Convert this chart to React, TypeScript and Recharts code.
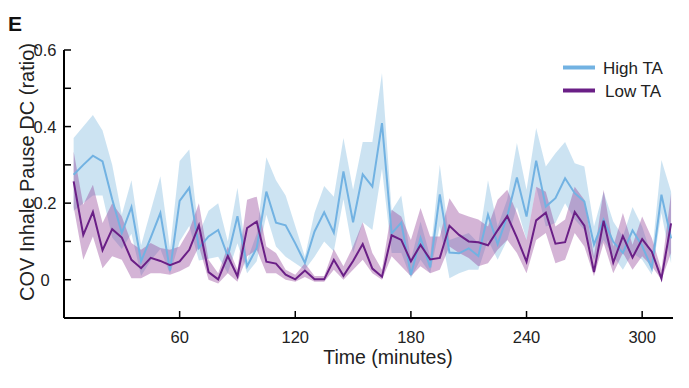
import React from 'react';
import { ComposedChart, Area, Line, XAxis, YAxis, Legend } from 'recharts';

// time points (minutes)
const times = [
  5, 10, 15, 20, 25, 30, 35, 40, 45, 50, 55, 60, 65, 70, 75, 80, 85, 90, 95, 100,
  105, 110, 115, 120, 125, 130, 135, 140, 145, 150, 155, 160, 165, 170, 175, 180,
  185, 190, 195, 200, 205, 210, 215, 220, 225, 230, 235, 240, 245, 250, 255, 260,
  265, 270, 275, 280, 285, 290, 295, 300, 305, 310, 315,
];

// High TA mean and shaded band
const highTA = [
  0.274, 0.3, 0.324, 0.309, 0.21, 0.122, 0.19, 0.048, 0.11, 0.174, 0.024, 0.206, 0.24, 0.083, 0.113, 0.13,
  0.061, 0.166, 0.035, 0.083, 0.23, 0.149, 0.142, 0.095, 0.044, 0.126, 0.176, 0.123, 0.283, 0.15, 0.275,
  0.243, 0.409, 0.121, 0.149, 0.013, 0.109, 0.032, 0.223, 0.071, 0.069, 0.082, 0.062, 0.17, 0.093, 0.166,
  0.267, 0.165, 0.311, 0.191, 0.213, 0.265, 0.226, 0.204, 0.092, 0.157, 0.099, 0.07, 0.129, 0.088, 0.03,
  0.222, 0.108,
];
const highTALow = [
  0.18, 0.2, 0.22, 0.22, 0.11, 0.08, 0.12, 0.01, 0.05, 0.08, 0.015, 0.1, 0.14, 0.05, 0.055, 0.06,
  0.017, 0.095, 0.017, 0.048, 0.17, 0.087, 0.06, 0.043, 0.026, 0.06, 0.1, 0.074, 0.21, 0.07, 0.15,
  0.13, 0.29, 0.07, 0.07, 0.004, 0.052, 0.017, 0.14, 0.004, 0.017, 0.026, 0.026, 0.104, 0.052, 0.104,
  0.19, 0.104, 0.243, 0.139, 0.148, 0.2, 0.157, 0.13, 0.052, 0.104, 0.061, 0.026, 0.07, 0.052, 0.013,
  0.174, 0.043,
];
const highTAHigh = [
  0.37, 0.4, 0.43, 0.39, 0.3, 0.17, 0.26, 0.09, 0.18, 0.27, 0.08, 0.31, 0.34, 0.12, 0.18, 0.2,
  0.1, 0.24, 0.05, 0.12, 0.32, 0.26, 0.22, 0.14, 0.06, 0.175, 0.245, 0.217, 0.37, 0.235, 0.36,
  0.36, 0.54, 0.18, 0.22, 0.052, 0.152, 0.061, 0.3, 0.104, 0.113, 0.122, 0.096, 0.26, 0.139, 0.21,
  0.357, 0.235, 0.396, 0.296, 0.33, 0.36, 0.304, 0.296, 0.139, 0.23, 0.152, 0.113, 0.19, 0.139, 0.061,
  0.313, 0.23,
];

// Low TA mean and shaded band
const lowTA = [
  0.257, 0.117, 0.177, 0.077, 0.132, 0.11, 0.052, 0.03, 0.057, 0.049, 0.038, 0.048, 0.078, 0.142, 0.02, 0.001,
  0.062, 0.009, 0.135, 0.152, 0.047, 0.042, 0.013, 0.001, 0.024, 0.001, 0.001, 0.052, 0.01, 0.049, 0.093,
  0.029, 0.008, 0.116, 0.104, 0.048, 0.091, 0.053, 0.057, 0.141, 0.117, 0.1, 0.098, 0.09, 0.129, 0.166,
  0.11, 0.047, 0.155, 0.175, 0.094, 0.098, 0.177, 0.141, 0.02, 0.154, 0.045, 0.114, 0.058, 0.106, 0.073,
  0.003, 0.147,
];
const lowTALow = [
  0.19, 0.052, 0.113, 0.03, 0.061, 0.052, 0.004, 0.004, 0.017, 0.017, 0.013, 0.022, 0.035, 0.087, 0, -0.01,
  0.017, -0.005, 0.061, 0.078, 0.017, 0.017, 0, -0.005, 0.007, -0.005, -0.005, 0.026, 0, 0.026, 0.052,
  0.017, 0, 0.061, 0.035, 0.009, 0.035, 0.017, 0.026, 0.087, 0.07, 0.057, 0.035, 0.043, 0.078, 0.104,
  0.07, 0.017, 0.104, 0.122, 0.043, 0.052, 0.122, 0.087, 0.009, 0.096, 0.017, 0.07, 0.026, 0.061, 0.035,
  0, 0.07,
];
const lowTAHigh = [
  0.335, 0.196, 0.248, 0.148, 0.2, 0.165, 0.096, 0.078, 0.096, 0.083, 0.078, 0.087, 0.13, 0.2, 0.052, 0.017,
  0.087, 0.026, 0.209, 0.217, 0.087, 0.07, 0.026, 0.013, 0.043, 0.01, 0.01, 0.08, 0.035, 0.087, 0.15,
  0.07, 0.026, 0.183, 0.165, 0.104, 0.187, 0.113, 0.113, 0.213, 0.174, 0.165, 0.157, 0.139, 0.209, 0.235,
  0.174, 0.104, 0.243, 0.23, 0.139, 0.157, 0.243, 0.209, 0.061, 0.235, 0.087, 0.174, 0.091, 0.165, 0.109,
  0.026, 0.226,
];

const xTicks = [60, 120, 180, 240, 300];
const yTicks = [0, 0.1, 0.2, 0.3, 0.4, 0.5, 0.6];
const yTickLabels = ['0', '', '0.2', '', '0.4', '', '0.6'];
const seriesNames = ['High TA', 'Low TA'];

const FONT = '"Liberation Sans", Arial, sans-serif';
const BLUE = '#72b2e2';
const PURPLE = '#6a1f86';

const data = times.map((t, i) => ({
  t,
  high: highTA[i],
  highBand: [highTALow[i], highTAHigh[i]],
  low: lowTA[i],
  lowBand: [lowTALow[i], lowTAHigh[i]],
}));

const XTick = (props: any) => {
  const { x, y, payload } = props;
  return (
    <g>
      <line x1={x} y1={y} x2={x} y2={y - 7} stroke="#000" strokeWidth={1.5} />
      <text x={x} y={y + 25} textAnchor="middle" fontSize={16.5} fill="#222" fontFamily={FONT}>
        {payload.value}
      </text>
    </g>
  );
};

const YTick = (props: any) => {
  const { x, y, index } = props;
  return (
    <g>
      <line x1={x} y1={y} x2={x + 7} y2={y} stroke="#000" strokeWidth={1.5} />
      <text x={45} y={y + 6} textAnchor="middle" fontSize={16.5} fill="#222" fontFamily={FONT}>
        {yTickLabels[index]}
      </text>
    </g>
  );
};

const YLabel = () => (
  <g>
    <text x={8} y={31} fontSize={21} fontWeight="bold" fill="#111" fontFamily={FONT}>E</text>
    <text
      x={34}
      y={172}
      transform="rotate(-90 34 172)"
      textAnchor="middle"
      fontSize={20}
      fill="#222"
      fontFamily={FONT}
    >
      COV Inhale Pause DC (ratio)
    </text>
  </g>
);

const XLabel = () => (
  <text x={388} y={364} textAnchor="middle" fontSize={19.5} fill="#222" fontFamily={FONT}>
    Time (minutes)
  </text>
);

const LegendBox = () => (
  <svg width={130} height={50}>
    <line x1={8} y1={12.5} x2={40} y2={12.5} stroke={BLUE} strokeWidth={4} />
    <text x={48} y={19} fontSize={17} fill="#222" fontFamily={FONT}>{seriesNames[0]}</text>
    <line x1={8} y1={35.5} x2={40} y2={35.5} stroke={PURPLE} strokeWidth={4} />
    <text x={50} y={42} fontSize={17} fill="#222" fontFamily={FONT}>{seriesNames[1]}</text>
  </svg>
);

const App: React.FC = () => {
  return (
    <div style={{ position: 'absolute', left: 0, top: 0, background: '#fff' }}>
      <ComposedChart width={689} height={388} data={data} margin={{ top: 50, right: 16, left: 0, bottom: 0 }}>
        <XAxis
          dataKey="t"
          type="number"
          domain={[0, 316]}
          ticks={xTicks}
          interval={0}
          height={70}
          tickSize={0}
          tickMargin={0}
          tickLine={false}
          tick={<XTick />}
          axisLine={{ stroke: '#000', strokeWidth: 2 }}
          label={<XLabel />}
        />
        <YAxis
          type="number"
          domain={[-0.1, 0.6]}
          ticks={yTicks}
          interval={0}
          width={64}
          tickSize={0}
          tickMargin={0}
          tickLine={false}
          tick={<YTick />}
          axisLine={{ stroke: '#000', strokeWidth: 2 }}
          label={<YLabel />}
        />
        <Legend
          layout="horizontal"
          verticalAlign="middle"
          align="center"
          content={<LegendBox />}
          wrapperStyle={{ left: 555, top: 55, width: 130, height: 50 }}
        />
        <Area dataKey="highBand" stroke="none" fill="#8fc0e3" fillOpacity={0.45} isAnimationActive={false} legendType="none" activeDot={false} />
        <Area dataKey="lowBand" stroke="none" fill="#8e3a93" fillOpacity={0.38} isAnimationActive={false} legendType="none" activeDot={false} />
        <Line dataKey="high" stroke={BLUE} strokeWidth={2} dot={false} isAnimationActive={false} name="High TA" />
        <Line dataKey="low" stroke={PURPLE} strokeWidth={2} dot={false} isAnimationActive={false} name="Low TA" />
      </ComposedChart>
    </div>
  );
};

export default App;
